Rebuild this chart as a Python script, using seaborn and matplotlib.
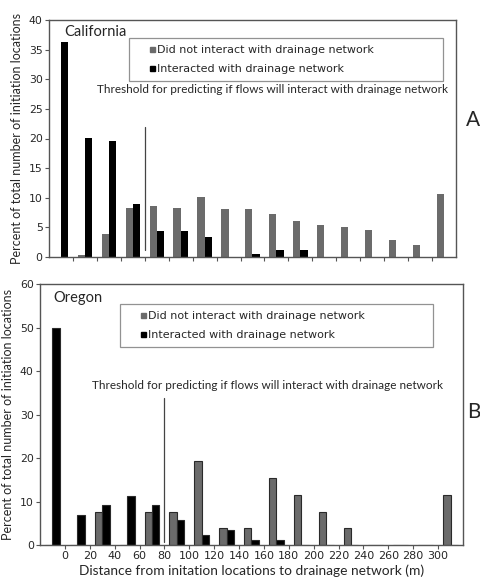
import matplotlib
matplotlib.use("Agg")
import numpy as np
import pandas as pd
import seaborn as sns
import matplotlib.pyplot as plt
from matplotlib.lines import Line2D

# ---------------- data ----------------
bins = ["0", "0-20", "20-40", "40-60", "60-80", "80-100", "100-120", "120-140",
        "140-160", "160-180", "180-200", "200-220", "220-240", "240-260",
        "260-280", "280-300", ">300"]
tick_labels = ["0", "20", "40", "60", "80", "100", "120", "140", "160", "180",
               "200", "220", "240", "260", "280", "300"]
series_names = ["Did not interact with drainage network",
                "Interacted with drainage network"]

ca_not_interact = [0, 0.3, 3.8, 8.3, 8.6, 8.3, 10.1, 8.1, 8.1, 7.2, 6.1, 5.4, 5.1, 4.5, 2.8, 2.1, 10.6]
ca_interact     = [36.3, 20.1, 19.5, 8.9, 4.4, 4.4, 3.3, 0, 0.5, 1.1, 1.1, 0, 0, 0, 0, 0, 0]

or_not_interact = [0, 0, 7.7, 0, 7.7, 7.7, 19.3, 3.9, 3.9, 15.4, 11.5, 7.7, 3.9, 0, 0, 0, 11.5]
or_interact     = [50.0, 6.9, 9.1, 11.3, 9.1, 5.7, 2.4, 3.4, 1.2, 1.2, 0, 0, 0, 0, 0, 0, 0]

ca_threshold_boundary = 3   # bar boundary after the 4th category (60 m)
or_threshold_boundary = 4   # bar boundary after the 5th category (80 m)

threshold_text = "Threshold for predicting if flows will interact with drainage network"
ylabel = "Percent of total number of initiation locations"
xlabel = "Distance from initation locations to drainage network (m)"

# ---------------- style ----------------
sns.set_theme(style="white")
plt.rcParams["font.family"] = ["Lato", "DejaVu Sans"]

GRAY = "#6b6b6b"
BLACK = "#000000"
SPINE = "#555555"
WIDE = ["DejaVu Sans"]


def long_df(not_vals, int_vals):
    rows = []
    for b, v in zip(bins, not_vals):
        rows.append((b, series_names[0], v))
    for b, v in zip(bins, int_vals):
        rows.append((b, series_names[1], v))
    return pd.DataFrame(rows, columns=["bin", "series", "value"])


fig = plt.figure(figsize=(4.81, 5.77), dpi=100)
axA = fig.add_axes([49 / 481, 1 - 257 / 577, 407 / 481, 237 / 577])
axB = fig.add_axes([40 / 481, 1 - 545 / 577, 423 / 481, 261 / 577])


def draw(ax, not_vals, int_vals, edge, ymax, ystep):
    df = long_df(not_vals, int_vals)
    sns.barplot(data=df, x="bin", y="value", hue="series", order=bins,
                hue_order=series_names, palette=[GRAY, BLACK], width=0.6,
                ax=ax, legend=False, edgecolor=edge, linewidth=0.8,
                saturation=1)
    ax.set_xlim(-0.5, len(bins) - 0.5)
    ax.set_ylim(0, ymax)
    ax.set_yticks(np.arange(0, ymax + 1, ystep))
    ax.set_xticks(np.arange(len(bins) - 1) + 0.5)
    for s in ax.spines.values():
        s.set_color(SPINE)
        s.set_linewidth(1.0)
    ax.tick_params(axis="both", direction="out", length=3, width=0.8,
                   color=SPINE, pad=1.5, labelsize=7.8, bottom=True, left=True)
    for lab in ax.get_yticklabels():
        lab.set_family(WIDE)
    ax.set_xlabel("")
    ax.set_ylabel(ylabel, fontsize=9.0, labelpad=4)


def add_legend(ax, bbox):
    handles = [Line2D([], [], linestyle="none", marker="s", markersize=3.6,
                      markerfacecolor=c, markeredgecolor=c)
               for c in [GRAY, BLACK]]
    leg = ax.legend(handles, series_names, loc="upper left",
                    bbox_to_anchor=bbox, mode="expand", ncol=1,
                    prop={"family": WIDE, "size": 8.0}, frameon=True,
                    fancybox=False, edgecolor="#777777", borderpad=0.6,
                    handlelength=2.9, handletextpad=-1.0, labelspacing=0.85,
                    borderaxespad=0)
    leg.get_frame().set_linewidth(0.9)
    return leg


# Panel A: California
draw(axA, ca_not_interact, ca_interact, "none", 40, 5)
axA.set_xticklabels([""] * len(tick_labels))
add_legend(axA, (0.197, 0.743, 0.771, 0.181))
axA.text(0.037, 0.949, "California", transform=axA.transAxes,
         fontsize=10.5, ha="left", va="center")
axA.text(0.548, 0.705, threshold_text, transform=axA.transAxes,
         fontsize=8.5, ha="center", va="center")
axA.plot([ca_threshold_boundary + 0.5] * 2, [1.2, 21.9], color="#444444", lw=0.9)

# Panel B: Oregon
draw(axB, or_not_interact, or_interact, "#2a2a2a", 60, 10)
axB.set_xticklabels(tick_labels, fontsize=8.0, family=WIDE)
axB.set_xlabel(xlabel, fontsize=9.9, labelpad=2)
add_legend(axB, (0.189, 0.755, 0.740, 0.168))
axB.text(0.031, 0.946, "Oregon", transform=axB.transAxes,
         fontsize=10.5, ha="left", va="center")
axB.text(0.537, 0.613, threshold_text, transform=axB.transAxes,
         fontsize=8.5, ha="center", va="center")
axB.plot([or_threshold_boundary + 0.5] * 2, [0.7, 33.8], color="#444444", lw=0.9)

fig.text(473 / 481, 1 - 120 / 577, "A", fontsize=15, ha="center", va="center")
fig.text(474 / 481, 1 - 412 / 577, "B", fontsize=15, ha="center", va="center")

fig.savefig("out.png", dpi=100)
